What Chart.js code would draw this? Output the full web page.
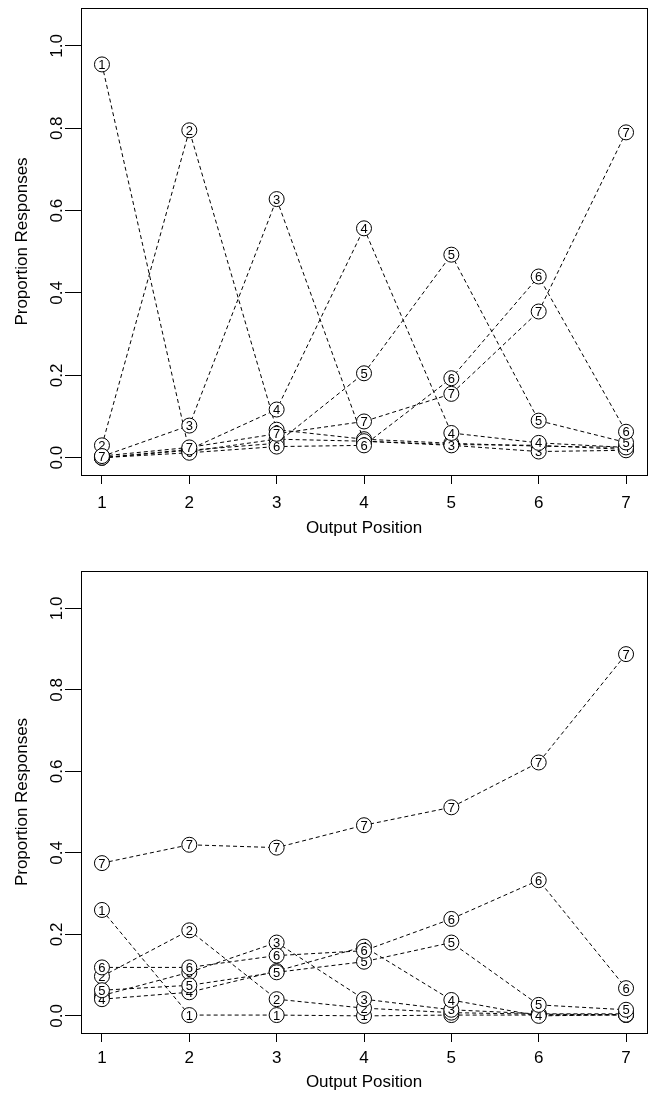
<!DOCTYPE html>
<html>
<head>
<meta charset="utf-8">
<title>Proportion Responses by Output Position</title>
<script src="https://cdn.jsdelivr.net/npm/chart.js@4.4.1/dist/chart.umd.min.js"></script>
<style>
  body { margin: 0; background: #fff; }
  canvas { display: block; }
</style>
</head>
<body>
<canvas id="topChart" width="650" height="547"></canvas>
<canvas id="bottomChart" width="650" height="548"></canvas>
<script>
// x positions and y ticks
const positions = [1, 2, 3, 4, 5, 6, 7];
const yTicks = [0, 0.2, 0.4, 0.6, 0.8, 1.0];
const seriesNames = ["1", "2", "3", "4", "5", "6", "7"];

// top panel, one array per input position
const top1 = [0.955, 0.015, 0.045, 0.040, 0.032, 0.030, 0.020];
const top2 = [0.030, 0.795, 0.068, 0.045, 0.035, 0.028, 0.025];
const top3 = [0.003, 0.078, 0.628, 0.040, 0.030, 0.015, 0.018];
const top4 = [0.000, 0.020, 0.117, 0.557, 0.060, 0.036, 0.025];
const top5 = [0.000, 0.018, 0.035, 0.205, 0.493, 0.090, 0.037];
const top6 = [0.000, 0.012, 0.027, 0.030, 0.193, 0.440, 0.063];
const top7 = [0.004, 0.025, 0.058, 0.088, 0.155, 0.355, 0.790];

// bottom panel
const bottom1 = [0.260, 0.002, 0.002, 0.000, 0.002, 0.002, 0.002];
const bottom2 = [0.097, 0.210, 0.041, 0.019, 0.008, 0.004, 0.003];
const bottom3 = [0.050, 0.107, 0.180, 0.041, 0.015, 0.005, 0.005];
const bottom4 = [0.041, 0.058, 0.110, 0.170, 0.039, 0.000, 0.003];
const bottom5 = [0.063, 0.075, 0.107, 0.133, 0.180, 0.027, 0.015];
const bottom6 = [0.119, 0.119, 0.148, 0.160, 0.238, 0.333, 0.068];
const bottom7 = [0.375, 0.420, 0.413, 0.468, 0.512, 0.622, 0.888];

const FONT = "'Liberation Sans', Arial, Helvetica, sans-serif";
Chart.defaults.font.family = FONT;
Chart.defaults.color = "#000";

// writes the series digit inside each circle, right after that series is drawn
const digitPlugin = {
  id: "digits",
  afterDatasetDraw(chart, args) {
    const ctx = chart.ctx;
    const name = chart.data.datasets[args.index].label;
    ctx.save();
    ctx.fillStyle = "#000";
    ctx.font = "13px " + FONT;
    ctx.textAlign = "center";
    ctx.textBaseline = "middle";
    args.meta.data.forEach(pt => ctx.fillText(name, pt.x, pt.y + 1));
    ctx.restore();
  }
};

// box around the plot region
const boxPlugin = {
  id: "box",
  afterDatasetsDraw(chart) {
    const a = chart.chartArea;
    const ctx = chart.ctx;
    ctx.save();
    ctx.strokeStyle = "#000";
    ctx.lineWidth = 1;
    ctx.setLineDash([]);
    ctx.strokeRect(Math.round(a.left) + 0.5, Math.round(a.top) + 0.5,
      Math.round(a.right - a.left), Math.round(a.bottom - a.top));
    ctx.restore();
  }
};

function drawPanel(id, seriesList, lay) {
  const datasets = seriesList.map((vals, k) => ({
    label: seriesNames[k],
    data: positions.map((x, i) => ({ x: x, y: vals[i] })),
    borderColor: "#000",
    borderWidth: 1,
    borderDash: [4, 3],
    pointStyle: "circle",
    pointRadius: 7.5,
    pointHoverRadius: 7.5,
    pointBackgroundColor: "#fff",
    pointBorderColor: "#000",
    pointBorderWidth: 1,
    tension: 0,
    fill: false,
    clip: false,
    order: seriesList.length - k
  }));

  new Chart(document.getElementById(id), {
    type: "line",
    data: { datasets },
    plugins: [digitPlugin, boxPlugin],
    options: {
      responsive: false,
      devicePixelRatio: 1,
      animation: false,
      events: [],
      layout: {
        autoPadding: false,
        padding: { top: lay.top, right: 3, left: 0, bottom: 0 }
      },
      plugins: {
        legend: { display: false },
        tooltip: { enabled: false }
      },
      scales: {
        x: {
          type: "linear",
          min: 0.76,
          max: 7.24,
          afterBuildTicks: s => { s.ticks = positions.map(v => ({ value: v })); },
          afterFit: s => { s.height = lay.xHeight; s.paddingLeft = 0; s.paddingRight = 0; },
          border: { display: false },
          grid: { drawOnChartArea: false, drawTicks: true, tickLength: 9, color: "#000", lineWidth: 1 },
          ticks: {
            color: "#000",
            font: { size: 17 },
            padding: lay.xPad,
            maxRotation: 0,
            callback: v => String(v)
          },
          title: {
            display: true,
            text: "Output Position",
            color: "#000",
            font: { size: 17 },
            padding: { top: 0, bottom: lay.titlePad }
          }
        },
        y: {
          min: -0.042,
          max: 1.092,
          afterBuildTicks: s => { s.ticks = yTicks.map(v => ({ value: v })); },
          afterFit: s => { s.width = 81; s.paddingTop = 0; s.paddingBottom = 0; },
          border: { display: false },
          grid: { drawOnChartArea: false, drawTicks: true, tickLength: 16, color: "#000", lineWidth: 1 },
          ticks: {
            color: "#000",
            font: { size: 17 },
            padding: -4,
            minRotation: 90,
            maxRotation: 90,
            crossAlign: "center",
            callback: v => v.toFixed(1)
          },
          title: {
            display: true,
            text: "Proportion Responses",
            color: "#000",
            font: { size: 17 },
            padding: { top: 12, bottom: 0 }
          }
        }
      }
    }
  });
}

drawPanel("topChart", [top1, top2, top3, top4, top5, top6, top7],
  { top: 8, xHeight: 72, xPad: 9, titlePad: 8 });
drawPanel("bottomChart", [bottom1, bottom2, bottom3, bottom4, bottom5, bottom6, bottom7],
  { top: 24, xHeight: 62, xPad: 6, titlePad: 2 });
</script>
</body>
</html>
